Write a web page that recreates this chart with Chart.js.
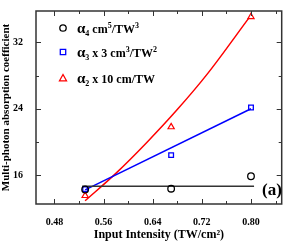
<!DOCTYPE html>
<html>
<head>
<meta charset="utf-8">
<script src="https://cdn.jsdelivr.net/npm/chart.js@4/dist/chart.umd.min.js"></script>
<style>
  html, body { margin: 0; padding: 0; background: #fff; }
  #wrap { width: 287px; height: 242px; }
</style>
</head>
<body>
<div id="wrap"><canvas id="chart" width="287" height="242"></canvas></div>
<script>
// measured intensities
const intensity = [0.53, 0.67, 0.80];
// coefficients
const alpha4 = [14.25, 14.35, 15.85];
const alpha3x3 = [14.3, 18.4, 24.15];
const alpha2x10 = [13.5, 21.8, 35.1];

// fit lines
const fit4X = [0.525, 0.805];
const fit4Y = [14.65, 14.65];
const fit3X = [0.53, 0.80];
const fit3Y = [14.2, 24.0];
const fit2X = [0.53, 0.58, 0.63, 0.68, 0.73, 0.797];
const fit2Y = [12.9, 16.2, 19.9, 23.9, 28.3, 35.0];

// axis ticks
const xTicks = [0.48, 0.56, 0.64, 0.72, 0.80];
const xMinor = [0.52, 0.60, 0.68, 0.76, 0.84];
const yTicks = [16, 24, 32];
const yMinor = [20, 28];

// legend text: [text, 'sub' | 'sup' | '']
const legendText = [
  [['α', ''], ['4', 'sub'], [' cm', ''], ['5', 'sup'], ['/TW', ''], ['3', 'sup']],
  [['α', ''], ['3', 'sub'], [' x 3 cm', ''], ['3', 'sup'], ['/TW', ''], ['2', 'sup']],
  [['α', ''], ['2', 'sub'], [' x 10 cm/TW', '']]
];

const pts = (xs, ys) => xs.map((x, i) => ({ x: x, y: ys[i] }));
const FONT = '"Liberation Serif", "Times New Roman", serif';

const frame = {
  id: 'frame',
  afterDraw(chart) {
    const { ctx, chartArea: a, scales } = chart;
    ctx.save();
    ctx.strokeStyle = '#333';
    ctx.lineWidth = 1.5;
    ctx.strokeRect(a.left, a.top, a.right - a.left, a.bottom - a.top);
    ctx.lineWidth = 1;
    ctx.beginPath();
    const xt = (v, len) => {
      const px = Math.round(scales.x.getPixelForValue(v)) + 0.5;
      ctx.moveTo(px, a.bottom); ctx.lineTo(px, a.bottom - len);
      ctx.moveTo(px, a.top); ctx.lineTo(px, a.top + len);
    };
    const yt = (v, len) => {
      const py = Math.round(scales.y.getPixelForValue(v)) + 0.5;
      ctx.moveTo(a.left, py); ctx.lineTo(a.left + len, py);
      ctx.moveTo(a.right, py); ctx.lineTo(a.right - len, py);
    };
    xTicks.forEach(v => xt(v, 5));
    xMinor.forEach(v => { if (v < scales.x.max) xt(v, 3); });
    yTicks.forEach(v => yt(v, 5));
    yMinor.forEach(v => yt(v, 3));
    ctx.stroke();

    // legend
    const ds = chart.data.datasets;
    const rows = [28, 52, 78];
    for (let i = 0; i < 3; i++) {
      const d = ds[i];
      const cx = 63, cy = rows[i];
      ctx.strokeStyle = d.borderColor;
      ctx.lineWidth = 1.3;
      ctx.beginPath();
      if (d.pointStyle === 'circle') ctx.arc(cx, cy, 3.2, 0, Math.PI * 2);
      else if (d.pointStyle === 'rect') ctx.rect(cx - 2.7, cy - 2.7, 5.4, 5.4);
      else { ctx.moveTo(cx, cy - 3.5); ctx.lineTo(cx + 3.5, cy + 2.8); ctx.lineTo(cx - 3.5, cy + 2.8); ctx.closePath(); }
      ctx.stroke();

      let x = 77;
      const base = cy + 4.5;
      ctx.fillStyle = '#000';
      ctx.textBaseline = 'alphabetic';
      legendText[i].forEach(([t, kind], k) => {
        let size = 12, dy = 0;
        if (k === 0) size = 15;
        if (kind === 'sub') { size = 8; dy = 3; }
        if (kind === 'sup') { size = 8; dy = -5; }
        ctx.font = 'bold ' + size + 'px ' + FONT;
        ctx.fillText(t, x, base + dy);
        x += ctx.measureText(t).width;
      });
    }

    ctx.font = 'bold 17px ' + FONT;
    ctx.fillText('(a)', 262, 195);
    ctx.restore();
  }
};

new Chart(document.getElementById('chart'), {
  type: 'scatter',
  data: {
    datasets: [
      { data: pts(intensity, alpha4), pointStyle: 'circle', pointRadius: 3.3, borderColor: '#000', backgroundColor: 'rgba(0,0,0,0)', borderWidth: 1.3 },
      { data: pts(intensity, alpha3x3), pointStyle: 'rect', pointRadius: 3.3, borderColor: '#0000ff', backgroundColor: 'rgba(0,0,0,0)', borderWidth: 1.3 },
      { data: pts(intensity, alpha2x10), pointStyle: 'triangle', pointRadius: 3.6, borderColor: '#ff0000', backgroundColor: 'rgba(0,0,0,0)', borderWidth: 1.2 },
      { data: pts(fit4X, fit4Y), showLine: true, pointRadius: 0, borderColor: '#333', borderWidth: 1.5 },
      { data: pts(fit3X, fit3Y), showLine: true, pointRadius: 0, borderColor: '#0000ff', borderWidth: 1.5 },
      { data: pts(fit2X, fit2Y), showLine: true, pointRadius: 0, borderColor: '#ff0000', borderWidth: 1.5, tension: 0.4, cubicInterpolationMode: 'monotone' }
    ]
  },
  options: {
    responsive: false,
    animation: false,
    layout: { padding: { top: 2, right: 1, left: 0, bottom: 0 } },
    plugins: { legend: { display: false }, tooltip: { enabled: false } },
    scales: {
      x: {
        type: 'linear', min: 0.45, max: 0.85,
        afterBuildTicks: s => { s.ticks = xTicks.map(v => ({ value: v })); },
        afterFit: s => { s.height = 38; },
        grid: { display: false }, border: { display: false },
        ticks: { color: '#000', padding: 4, font: { family: FONT, weight: 'bold', size: 10 }, callback: v => v.toFixed(2) },
        title: { display: true, text: 'Input Intensity (TW/cm²)', color: '#000', padding: { top: 5, bottom: 0 }, font: { family: FONT, weight: 'bold', size: 12 } }
      },
      y: {
        type: 'linear', min: 12.5, max: 35.8,
        afterBuildTicks: s => { s.ticks = yTicks.map(v => ({ value: v })); },
        afterFit: s => { s.width = 36; },
        grid: { display: false }, border: { display: false },
        ticks: { color: '#000', padding: 5, font: { family: FONT, weight: 'bold', size: 10 } },
        title: { display: true, text: 'Multi-photon absorption coefficient', color: '#000', padding: { top: 0, bottom: 2 }, font: { family: FONT, weight: 'bold', size: 11 } }
      }
    }
  },
  plugins: [frame]
});
</script>
</body>
</html>
